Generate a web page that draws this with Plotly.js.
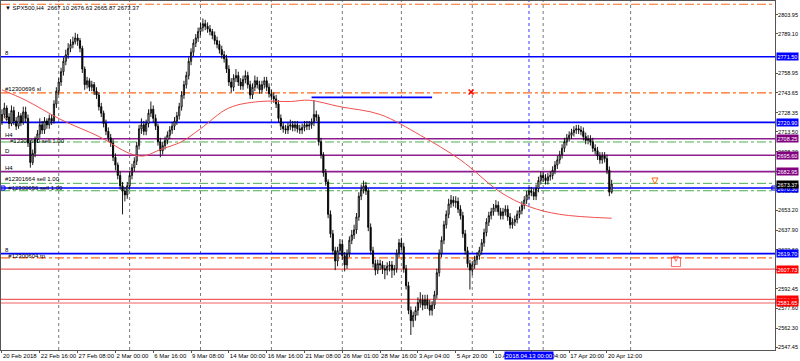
<!DOCTYPE html>
<html><head><meta charset="utf-8">
<script src="https://cdn.plot.ly/plotly-3.0.1.min.js"></script>
<style>html,body{margin:0;padding:0;background:#fff;}#chart{width:800px;height:361px;}</style>
</head><body><div id="chart"></div>
<script>
// ---- price axis tick labels ----
const priceTicks = [2547.45,2562.30,2577.60,2592.45,2607.75,2622.60,2637.90,2653.20,2668.05,2683.35,2698.20,2713.50,2728.35,2743.65,2758.95,2789.10,2803.95];
// ---- time axis labels (bar index -> text) ----
const timeTickBars = [0,16,32,48,64,80,96,112,128,144,160,176,192,208,224,240,256];
const timeTickText = ["20 Feb 2018","22 Feb 16:00","27 Feb 08:00","2 Mar 00:00","6 Mar 16:00","9 Mar 08:00","14 Mar 00:00","16 Mar 16:00","21 Mar 08:00","26 Mar 01:00","28 Mar 16:00","3 Apr 04:00","5 Apr 20:00","10 Apr 12:00","13 Apr 04:00","17 Apr 20:00","20 Apr 12:00"];
const gridBars = [24,54,84,114,144,169,199,229,266];
// ---- H4 candles (bar 0 = 20 Feb 2018 00:00) ----
const barOpen = [2722,2727,2732,2725,2720,2730,2722,2718,2726,2721,
2729,2724,2705,2690,2697,2708,2712,2719,2715,2722,
2719,2724,2722,2735,2745,2752,2760,2768,2773,2778,
2781,2783,2786,2784,2778,2762,2750,2753,2748,2750,
2745,2742,2733,2728,2720,2714,2709,2705,2694,2688,
2680,2672,2668,2665,2672,2680,2686,2691,2703,2716,
2719,2714,2720,2728,2731,2724,2718,2706,2699,2703,
2707,2711,2715,2718,2722,2726,2733,2742,2750,2757,
2768,2775,2782,2786,2791,2794,2797,2795,2793,2791,
2788,2784,2781,2777,2773,2770,2762,2752,2748,2755,
2757,2752,2749,2754,2757,2750,2742,2748,2753,2750,
2746,2750,2753,2748,2743,2741,2739,2735,2724,2718,
2716,2715,2718,2719,2717,2719,2716,2715,2717,2719,
2718,2719,2721,2727,2725,2706,2696,2682,2675,2650,
2635,2622,2614,2622,2627,2618,2611,2620,2630,2634,
2638,2648,2664,2669,2672,2668,2640,2622,2612,2607,
2612,2611,2608,2607,2610,2611,2607,2608,2620,2628,
2625,2608,2595,2576,2568,2572,2576,2582,2584,2580,
2584,2580,2576,2580,2588,2605,2620,2630,2642,2650,
2658,2661,2659,2660,2654,2649,2635,2622,2612,2607,
2611,2615,2618,2622,2628,2636,2644,2649,2652,2655,
2657,2652,2649,2652,2654,2648,2642,2644,2646,2650,
2653,2657,2661,2665,2668,2667,2664,2670,2676,2680,
2678,2676,2679,2680,2684,2688,2692,2696,2701,2706,
2709,2711,2713,2715,2716,2715,2714,2710,2707,2708,
2706,2701,2699,2695,2692,2695,2693,2684,2667.10];
const barHigh = [2731,2736,2734,2728,2734,2733,2725,2729,2728,2733,
2733,2727,2707,2700,2710,2715,2724,2722,2725,2724,
2727,2727,2738,2748,2755,2763,2771,2777,2782,2785,
2787,2790,2789,2786,2780,2764,2756,2755,2753,2752,
2748,2744,2736,2730,2723,2717,2712,2708,2697,2690,
2683,2675,2671,2675,2683,2689,2694,2706,2719,2724,
2722,2723,2731,2737,2734,2727,2720,2709,2706,2710,
2714,2718,2721,2725,2729,2736,2745,2753,2760,2771,
2778,2785,2789,2794,2798,2801,2800,2798,2796,2793,
2791,2787,2784,2780,2776,2773,2765,2755,2758,2762,
2760,2755,2757,2761,2760,2753,2751,2757,2756,2753,
2753,2756,2756,2751,2746,2744,2742,2738,2727,2721,
2719,2721,2723,2722,2722,2722,2719,2720,2722,2722,
2722,2724,2738,2730,2727,2709,2698,2685,2677,2653,
2638,2625,2625,2631,2630,2621,2623,2633,2638,2642,
2651,2667,2673,2676,2675,2670,2643,2625,2615,2615,
2615,2614,2611,2613,2614,2614,2611,2623,2631,2632,
2628,2611,2598,2579,2575,2579,2586,2590,2588,2588,
2588,2584,2583,2591,2608,2623,2633,2645,2653,2662,
2665,2664,2664,2663,2657,2652,2638,2625,2615,2614,
2618,2621,2625,2631,2639,2647,2652,2655,2658,2661,
2660,2655,2655,2657,2657,2651,2647,2649,2653,2656,
2660,2664,2668,2671,2671,2670,2673,2679,2683,2683,
2681,2682,2683,2687,2691,2695,2699,2704,2709,2712,
2714,2716,2718,2719,2719,2718,2717,2713,2711,2711,
2709,2704,2702,2698,2698,2698,2696,2687,2676.63];
const barLow = [2719,2724,2722,2716,2718,2719,2715,2716,2718,2719,
2721,2702,2686,2688,2694,2705,2709,2712,2712,2716,
2716,2719,2720,2732,2742,2749,2757,2765,2770,2775,
2778,2781,2780,2775,2759,2746,2747,2745,2745,2742,
2739,2730,2725,2717,2711,2706,2702,2691,2684,2677,
2669,2650,2660,2662,2669,2677,2683,2688,2700,2712,
2711,2711,2717,2725,2721,2715,2703,2694,2696,2700,
2704,2708,2712,2715,2719,2723,2730,2739,2747,2754,
2765,2772,2779,2783,2788,2791,2792,2790,2788,2785,
2781,2778,2774,2770,2767,2759,2749,2744,2745,2752,
2749,2746,2746,2751,2747,2739,2739,2745,2747,2743,
2743,2747,2745,2740,2738,2736,2732,2721,2715,2713,
2712,2712,2715,2714,2714,2713,2712,2712,2714,2715,
2715,2716,2718,2722,2703,2693,2679,2672,2647,2632,
2619,2607,2610,2619,2615,2606,2608,2617,2627,2631,
2635,2645,2661,2666,2665,2637,2619,2609,2603,2604,
2607,2604,2600,2603,2606,2601,2603,2605,2617,2622,
2605,2592,2573,2557,2563,2568,2572,2578,2576,2577,
2577,2572,2572,2577,2585,2602,2617,2627,2639,2647,
2655,2656,2655,2651,2646,2632,2619,2609,2592,2603,
2608,2611,2615,2619,2625,2633,2641,2646,2649,2652,
2649,2646,2646,2649,2645,2639,2639,2641,2643,2647,
2650,2654,2658,2662,2664,2661,2661,2667,2673,2675,
2673,2673,2676,2677,2681,2685,2689,2693,2698,2703,
2706,2708,2710,2712,2712,2711,2707,2704,2704,2703,
2698,2696,2692,2689,2689,2690,2681,2664,2665.87];
const barClose = [2727,2732,2725,2720,2730,2722,2718,2726,2721,2729,
2724,2705,2690,2697,2708,2712,2719,2715,2722,2719,
2724,2722,2735,2745,2752,2760,2768,2773,2778,2781,
2783,2786,2784,2778,2762,2750,2753,2748,2750,2745,
2742,2733,2728,2720,2714,2709,2705,2694,2688,2680,
2672,2668,2665,2672,2680,2686,2691,2703,2716,2719,
2714,2720,2728,2731,2724,2718,2706,2699,2703,2707,
2711,2715,2718,2722,2726,2733,2742,2750,2757,2768,
2775,2782,2786,2791,2794,2797,2795,2793,2791,2788,
2784,2781,2777,2773,2770,2762,2752,2748,2755,2757,
2752,2749,2754,2757,2750,2742,2748,2753,2750,2746,
2750,2753,2748,2743,2741,2739,2735,2724,2718,2716,
2715,2718,2719,2717,2719,2716,2715,2717,2719,2718,
2719,2721,2727,2725,2706,2696,2682,2675,2650,2635,
2622,2614,2622,2627,2618,2611,2620,2630,2634,2638,
2648,2664,2669,2672,2668,2640,2622,2612,2607,2612,
2611,2608,2607,2610,2611,2607,2608,2620,2628,2625,
2608,2595,2576,2568,2572,2576,2582,2584,2580,2584,
2580,2576,2580,2588,2605,2620,2630,2642,2650,2658,
2661,2659,2660,2654,2649,2635,2622,2612,2607,2611,
2615,2618,2622,2628,2636,2644,2649,2652,2655,2657,
2652,2649,2652,2654,2648,2642,2644,2646,2650,2653,
2657,2661,2665,2668,2667,2664,2670,2676,2680,2678,
2676,2679,2680,2684,2688,2692,2696,2701,2706,2709,
2711,2713,2715,2716,2715,2714,2710,2707,2708,2706,
2701,2699,2695,2692,2695,2693,2684,2667.10,2673.37];
// ---- moving average (samples: bar index / price) ----
const maBars = [0,10,25,41,54,60,67,76,84,96,109,122,130,143,160,177,194,211,223,236,258];
const maVals = [2746,2738,2723,2710,2697,2695,2700,2706,2716,2732,2737,2737,2738,2733,2727,2711,2692,2667,2656,2650,2647];
// ---- horizontal objects ----
const blueLevels = [2771.50,2720.90,2670.30,2619.70];
const purpleLevels = [2708.25,2695.60,2682.95];
const redLevels = [2607.73,2584.50,2581.65];
const orangeLevels = [2812.0,2743.65,2616.5];
const greenLevels = [2705.8,2673.9,2668.2];
const bidPrice = 2673.37;
const segBars = [131,182], segPrice = 2740.2;
const cursorBar = 223;

const X0 = -0.42, X1 = 327.1, Y0 = 2545.4, Y1 = 2814.5;
const F = 'Liberation Sans';
const shapes = [];
gridBars.forEach(b=>shapes.push({type:'line',xref:'x',yref:'paper',x0:b,x1:b,y0:0,y1:1,line:{color:'#7a7a7a',width:1,dash:'dot'},layer:'below'}));
shapes.push({type:'line',xref:'x',yref:'paper',x0:cursorBar,x1:cursorBar,y0:0,y1:1,line:{color:'#3a3aff',width:1,dash:'dot'},layer:'below'});
const hl=(v,c,w,d)=>shapes.push({type:'line',xref:'paper',yref:'y',x0:0,x1:1,y0:v,y1:v,line:{color:c,width:w,dash:d},layer:'below'});
blueLevels.forEach(v=>hl(v,'#0000ff',1.6,'solid'));
purpleLevels.forEach(v=>hl(v,'#8e1e8e',1.6,'solid'));
redLevels.forEach(v=>hl(v,'#f06060',1.2,'solid'));
orangeLevels.forEach(v=>hl(v,'#ff6a1a',1.2,'dashdot'));
greenLevels.forEach(v=>hl(v,'#4caf50',1,'dashdot'));
shapes.push({type:'line',xref:'x',yref:'y',x0:segBars[0],x1:segBars[1],y0:segPrice,y1:segPrice,line:{color:'#0000ff',width:1.6}});

const ann=[];
const rl=(v,bg,txt)=>ann.push({xref:'paper',yref:'y',x:1.0015,y:v,xanchor:'left',yanchor:'middle',text:txt,showarrow:false,bgcolor:bg,font:{family:F,size:5.5,color:'#fff'},borderpad:0.5});
blueLevels.forEach(v=>rl(v,'#0000ff',v.toFixed(2)));
purpleLevels.forEach(v=>rl(v,'#800080',v.toFixed(2)));
redLevels.forEach(v=>rl(v,'#ff0000',v.toFixed(2)));
rl(bidPrice,'#000000',bidPrice.toFixed(2));
const ll=(v,txt)=>ann.push({xref:'paper',yref:'y',x:0.004,y:v,xanchor:'left',yanchor:'bottom',text:txt,showarrow:false,font:{family:F,size:6,color:'#000'},borderpad:0});
ll(2771.50,'8'); ll(2743.65,'#12300696 sl'); ll(2720.90,'8'); ll(2708.25,'H4');
ll(2703.5,'   #12300690 sell 1.00'); ll(2695.60,'D'); ll(2682.95,'H4');
ll(2674.5,'#12301664 sell 1.00'); ll(2667.5,'  #12300656 sell 1.00'); ll(2619.70,'8'); ll(2614.5,'  #12300604 tp');
ann.push({xref:'paper',yref:'paper',x:0.003,y:0.995,xanchor:'left',yanchor:'top',text:'▼ SPX500,H4  2667.10 2676.63 2665.87 2673.37',showarrow:false,font:{family:F,size:6,color:'#000'}});
ann.push({xref:'x',yref:'paper',x:cursorBar,y:-0.004,xanchor:'center',yanchor:'top',text:'2018.04.13 00:00',showarrow:false,bgcolor:'#0000ff',font:{family:F,size:6,color:'#fff'},borderpad:0.5});

const traces=[
 {type:'candlestick',x:barOpen.map((_,i)=>i),open:barOpen,high:barHigh,low:barLow,close:barClose,
  increasing:{line:{color:'#000',width:0.9},fillcolor:'#fff'},decreasing:{line:{color:'#000',width:0.9},fillcolor:'#000'},whiskerwidth:0,hoverinfo:'skip'},
 {type:'scatter',mode:'lines',x:maBars,y:maVals,line:{color:'#f05050',width:1,shape:'spline'},hoverinfo:'skip'},
 {type:'scatter',mode:'markers',x:[198.5],y:[2744.4],marker:{symbol:'x-thin-open',size:5,color:'#ff0000',line:{width:1.5,color:'#ff0000'}},hoverinfo:'skip'},
 {type:'scatter',mode:'markers',x:[276.3],y:[2673.4],marker:{symbol:'arrow-down-open',size:6,color:'#ff6a1a',line:{width:1,color:'#ff6a1a'}},hoverinfo:'skip'},
 {type:'scatter',mode:'markers',x:[285.2,285.2],y:[2613.2,2613.8],marker:{symbol:['square-open','arrow-down-open'],size:[9,5],color:'#ff3030',line:{width:1,color:'#ff3030'}},hoverinfo:'skip'},
 {type:'scatter',mode:'markers',x:[0.4,326.6],y:[2670.3,2670.3],marker:{symbol:'square-open',size:4,color:'#0000ff',line:{width:1,color:'#0000ff'}},cliponaxis:false,hoverinfo:'skip'}
];
const layout={width:800,height:361,margin:{l:1,r:25,t:1,b:11},paper_bgcolor:'#fff',plot_bgcolor:'#fff',showlegend:false,
 xaxis:{range:[X0,X1],tickvals:timeTickBars,ticktext:timeTickText,tickangle:0,showgrid:false,zeroline:false,ticks:'outside',ticklen:2,tickcolor:'#555',tickfont:{family:F,size:6,color:'#000'},linecolor:'#555',showline:true,mirror:true,rangeslider:{visible:false},ticklabelposition:'outside right',automargin:false},
 yaxis:{range:[Y0,Y1],side:'right',tickvals:priceTicks,ticktext:priceTicks.map(v=>v.toFixed(2)),showgrid:false,zeroline:false,ticks:'outside',ticklen:2,tickcolor:'#555',tickfont:{family:F,size:5.5,color:'#000'},ticklabelstandoff:-1,linecolor:'#555',showline:true,mirror:true,automargin:false},
 shapes:shapes,annotations:ann};
Plotly.newPlot('chart',traces,layout,{staticPlot:true,displayModeBar:false});
</script></body></html>
